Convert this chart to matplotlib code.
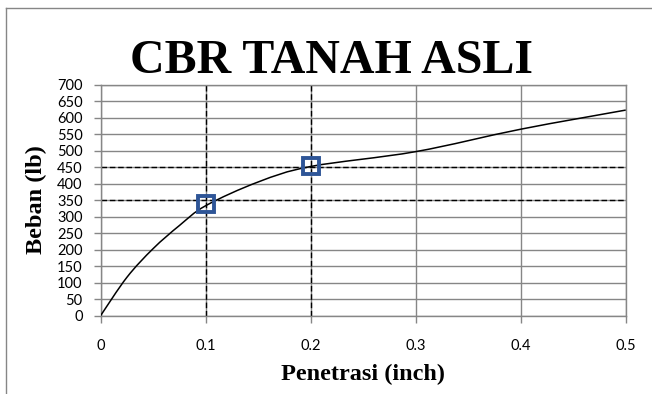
import numpy as np
from matplotlib import pyplot as plt
from matplotlib.path import Path
from matplotlib.patches import PathPatch
from matplotlib.lines import Line2D

# CBR test data
penetrasi = [0, 0.025, 0.05, 0.075, 0.1, 0.15, 0.2, 0.3, 0.4, 0.5]
beban = [0, 116, 203, 273, 333, 405, 452, 497, 565, 623]

# points picked at 0.1" and 0.2"
titik_x = [0.1, 0.2]
titik_y = [337, 453]
garis_h = [350, 450]

x_ticks = [0, 0.1, 0.2, 0.3, 0.4, 0.5]
x_labels = ['0', '0.1', '0.2', '0.3', '0.4', '0.5']
y_ticks = list(range(0, 701, 50))

serif = 'Liberation Serif'
sans = 'Lato'


def smooth_path(xs, ys):
    # Excel style smoothed line: Catmull-Rom segments as cubic beziers
    pts = np.column_stack([xs, ys]).astype(float)
    verts = [pts[0]]
    codes = [Path.MOVETO]
    n = len(pts)
    for i in range(n - 1):
        p0 = pts[i - 1] if i > 0 else pts[i]
        p1 = pts[i]
        p2 = pts[i + 1]
        p3 = pts[i + 2] if i + 2 < n else pts[i + 1]
        c1 = p1 + (p2 - p0) / 6.0
        c2 = p2 - (p3 - p1) / 6.0
        verts += [c1, c2, p2]
        codes += [Path.CURVE4] * 3
    return Path(verts, codes)


fig = plt.figure(figsize=(6.52, 3.94), dpi=100)
ax = fig.add_axes([100.7 / 652, 1 - 315.5 / 394, 525 / 652, 230.8 / 394])

ax.set_xlim(0, 0.5)
ax.set_ylim(0, 700)

ax.set_xticks(x_ticks)
ax.set_xticklabels(x_labels)
ax.set_yticks(y_ticks)
ax.tick_params(axis='both', direction='out', length=5, width=1, color='#868686',
               labelsize=10.5)
ax.tick_params(axis='y', pad=8)
ax.tick_params(axis='x', pad=12)
for lab in ax.get_xticklabels() + ax.get_yticklabels():
    lab.set_family(sans)

ax.grid(True, color='#868686', linewidth=1)
ax.set_axisbelow(True)
for s in ax.spines.values():
    s.set_color('#868686')
    s.set_linewidth(1)

# dashed reading lines
for xv in titik_x:
    ax.axvline(xv, color='black', linestyle=(0, (4, 2)), linewidth=1, zorder=2)
for yv in garis_h:
    ax.axhline(yv, color='black', linestyle=(0, (4, 2)), linewidth=1, zorder=2)

# smoothed curve
ax.add_patch(PathPatch(smooth_path(penetrasi, beban), facecolor='none',
                       edgecolor='black', linewidth=1.1, zorder=3))

ax.plot(titik_x, titik_y, linestyle='none', marker='s', markersize=12,
        markerfacecolor='none', markeredgecolor='#2E5597', markeredgewidth=2.8,
        zorder=4)

fig.text(0.508, 0.845, 'CBR TANAH ASLI', family=serif, fontweight='bold',
         fontsize=34.5, ha='center', va='center')
ax.set_xlabel('Penetrasi (inch)', family=serif, fontweight='bold', fontsize=17.5,
              labelpad=8)
fig.text(36 / 652, 1 - 200 / 394, 'Beban (lb)', family=serif, fontweight='bold',
         fontsize=17.5, rotation=90, ha='center', va='center')

# outer chart border
fig.add_artist(Line2D([6 / 652, 6 / 652], [0, 1 - 8 / 394],
                      transform=fig.transFigure, color='#868686', linewidth=1))
fig.add_artist(Line2D([6 / 652, 1], [1 - 8 / 394, 1 - 8 / 394],
                      transform=fig.transFigure, color='#868686', linewidth=1))

fig.savefig('out.png', dpi=100)
